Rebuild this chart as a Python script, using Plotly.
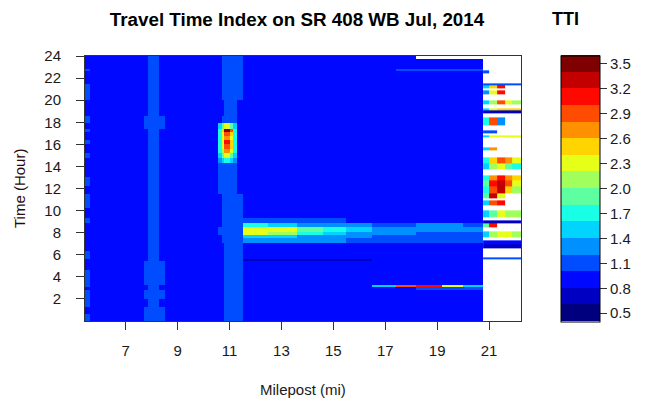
import plotly.graph_objects as go

# ---------------- TTI classes (colour key) ----------------
tti_zmin = 0.4
tti_zmax = 3.6
class_colors = ["#00007F", "#0000C3", "#0008FF", "#004CFF", "#0090FF", "#00D4FF",
                "#19FFE5", "#5DFFA1", "#A1FF5D", "#E5FF19", "#FFD400", "#FF9000",
                "#FF4C00", "#FF0800", "#C30000", "#7F0000"]
tti_ticks = [0.5, 0.8, 1.1, 1.4, 1.7, 2.0, 2.3, 2.6, 2.9, 3.2, 3.5]
tti_ticktext = ["0.5", "0.8", "1.1", "1.4", "1.7", "2.0", "2.3", "2.6", "2.9", "3.2", "3.5"]

mile_ticks = [7, 9, 11, 13, 15, 17, 19, 21]
hour_ticks = [2, 4, 6, 8, 10, 12, 14, 16, 18, 20, 22, 24]

# shorthand values
B = 0.9   # free flow blue
L = 1.1   # light streak blue
D = 0.7   # dark blue
N = None  # no data

# ---------------- main corridor field (milepost 5.43 - 20.77) ----------------
field_milepost_edges = [5.43, 5.62, 7.7, 7.85, 8.3, 8.5, 10.55, 10.7, 10.8, 11.0, 11.15,
                        11.3, 11.5, 12.5, 13.6, 14.6, 15.5, 16.5, 17.4, 18.2, 19.2, 20.0, 20.77]
field_hour_edges = [0, 0.6, 1.3, 2.0, 2.8, 3.1, 3.3, 4.0, 4.6, 5.45, 5.6, 6.3, 7.05, 7.5, 7.8,
                    8.1, 8.5, 8.9, 9.3, 10.2, 11.5, 12.2, 13.0, 14.3, 14.8, 15.2, 15.6, 16.0,
                    16.4, 16.8, 17.1, 17.4, 17.9, 18.6, 20.0, 21.5, 22.6, 22.8, 23.7, 24.0]
field_tti = [
    [L, B, L, L, L, B, B, B, L, L, L, L] + [B] * 10,                                   # 0-0.6
    [B, B, L, L, L, B, B, B, L, L, L, L] + [B] * 10,                                   # 0.6-1.3
    [L, B, B, L, B, B, B, B, L, L, L, L] + [B] * 10,                                   # 1.3-2.0
    [L, B, L, L, L, B, B, B, L, L, L, L] + [B] * 10,                                   # 2.0-2.8
    [B, B, B, L, B, B, B, B, L, L, L, L] + [B, B, B, B, B, B, B, L, L, L],             # 2.8-3.1
    [L, B, B, L, B, B, B, B, L, L, L, L] + [B, B, B, B, B, 1.5, 2.9, 3.1, 2.3, 1.5],   # 3.1-3.3
    [L, B, L, L, L, B, B, B, L, L, L, L] + [B] * 10,                                   # 3.3-4.0
    [L, B, L, L, L, B, B, B, L, L, L, L] + [B] * 10,                                   # 4.0-4.6
    [B, B, L, L, L, B, B, B, L, L, L, L] + [B] * 10,                                   # 4.6-5.45
    [B, B, B, L, B, B, B, B, L, L, L, L] + [D, D, D, D, D, B, B, B, B, B],             # 5.45-5.6
    [L, B, B, L, B, B, B, B, L, L, L, L] + [B] * 10,                                   # 5.6-6.3
    [B, B, B, L, B, B, B, B, L, L, L, L] + [B] * 10,                                   # 6.3-7.05
    [B, B, B, L, B, B, B, L, L, L, L, L] + [1.3, 1.3, 1.3, 1.3, L, L, L, L, L, L],     # 7.05-7.5
    [B, B, B, L, B, B, B, L, L, L, L, L] + [1.5, 1.5, 1.3, 1.3, 1.3, L, L, L, L, L],   # 7.5-7.8
    [B, B, B, L, B, B, L, L, L, L, L, L] + [2.3, 2.1, 1.7, 1.5, 1.3, 1.3, 1.3, L, L, L],      # 7.8-8.1
    [B, B, B, L, B, B, L, L, L, L, L, L] + [2.3, 2.3, 1.9, 1.7, 1.5, 1.3, 1.3, 1.3, 1.3, 1.3],  # 8.1-8.5
    [B, B, B, L, B, B, B, L, L, L, L, L] + [1.7, 1.5, 1.3, 1.3, 1.3, L, L, 1.3, 1.3, L],  # 8.5-8.9
    [L, B, B, L, B, B, B, L, L, L, L, L] + [L, L, L, L, B, B, B, B, B, B],             # 8.9-9.3
    [B, B, B, L, B, B, B, L, L, L, L, L] + [B] * 10,                                   # 9.3-10.2
    [L, B, B, L, B, B, B, L, L, L, L, L] + [B] * 10,                                   # 10.2-11.5
    [B, B, B, L, B, B, L, L, L, L, L, B] + [B] * 10,                                   # 11.5-12.2
    [L, B, B, L, B, B, L, L, L, L, L, B] + [B] * 10,                                   # 12.2-13.0
    [B, B, B, L, B, B, L, L, L, L, L, B] + [B] * 10,                                   # 13.0-14.3
    [B, B, B, L, B, B, 1.3, 1.5, 1.7, 1.5, 1.3, B] + [B] * 10,                         # 14.3-14.8
    [L, B, B, L, B, B, 1.5, 1.9, 2.3, 1.9, 1.5, B] + [B] * 10,                         # 14.8-15.2
    [B, B, B, L, B, B, 1.7, 2.1, 2.7, 2.3, 1.7, B] + [B] * 10,                         # 15.2-15.6
    [B, B, B, L, B, B, 1.7, 2.3, 2.9, 2.5, 1.7, B] + [B] * 10,                         # 15.6-16.0
    [L, B, B, L, B, B, 1.7, 2.3, 3.1, 2.5, 1.7, B] + [B] * 10,                         # 16.0-16.4
    [B, B, B, L, B, B, 1.7, 2.3, 2.7, 2.3, 1.7, B] + [B] * 10,                         # 16.4-16.8
    [B, B, B, L, B, B, 1.7, 2.3, 2.9, 2.5, 1.7, B] + [B] * 10,                         # 16.8-17.1
    [L, B, B, L, B, B, 1.7, 2.5, 3.5, 2.9, 1.7, B] + [B] * 10,                         # 17.1-17.4
    [B, B, L, L, L, B, 1.5, 1.9, 2.3, 1.9, 1.5, B] + [B] * 10,                         # 17.4-17.9
    [L, B, L, L, L, B, B, L, L, L, L, B] + [B] * 10,                                   # 17.9-18.6
    [B, B, B, L, B, B, B, B, L, L, L, B] + [B] * 10,                                   # 18.6-20.0
    [L, B, B, L, B, B, B, L, L, L, L, L] + [B] * 10,                                   # 20.0-21.5
    [B, B, B, L, B, B, B, L, L, L, L, L] + [B] * 10,                                   # 21.5-22.6
    [L, B, B, L, B, B, B, L, L, L, L, L] + [B, B, B, B, B, B, L, L, L, L],             # 22.6-22.8
    [B, B, B, L, B, B, B, L, L, L, L, L] + [B] * 10,                                   # 22.8-23.7
    [B, B, B, L, B, B, B, L, L, L, L, L] + [B, B, B, B, B, B, B, N, N, N],             # 23.7-24.0
]

# ---------------- sparse east end (milepost 20.77 - 22.23) ----------------
east_milepost_edges = [20.77, 21.0, 21.3, 21.6, 21.9, 22.23]
east_hour_edges = [5.6, 5.8, 6.6, 6.95, 7.3, 7.6, 8.1, 8.5, 8.8, 9.1, 9.4, 10.0, 10.5, 10.9,
                   11.1, 11.6, 12.2, 12.7, 13.2, 13.7, 14.3, 14.8, 15.5, 15.7, 16.6, 16.8,
                   17.0, 17.3, 17.7, 18.4, 18.8, 19.05, 19.3, 19.6, 20.0, 20.5, 20.9, 21.1,
                   21.3, 21.5, 22.4, 22.7]
east_tti = [
    [L, L, L, L, L],            # 5.6-5.8
    [N, N, N, N, N],            # 5.8-6.6
    [D, D, D, D, D],            # 6.6-6.95
    [B, B, B, B, B],            # 6.95-7.3
    [N, N, N, N, N],            # 7.3-7.6
    [1.5, 2.1, 2.3, 2.3, 2.1],  # 7.6-8.1
    [N, N, N, N, N],            # 8.1-8.5
    [1.9, 3.1, N, N, N],        # 8.5-8.8
    [D, D, D, D, D],            # 8.8-9.1
    [N, N, N, N, N],            # 9.1-9.4
    [1.5, 1.9, 2.3, 2.1, 2.1],  # 9.4-10.0
    [N, N, N, N, N],            # 10.0-10.5
    [1.5, 2.9, 3.1, N, N],      # 10.5-10.9
    [N, N, N, N, N],            # 10.9-11.1
    [1.9, 3.3, 2.3, N, N],      # 11.1-11.6
    [1.7, 2.9, 3.3, 2.5, 2.1],  # 11.6-12.2
    [1.9, 3.1, 3.3, 2.9, 2.3],  # 12.2-12.7
    [1.7, 2.7, 3.1, 2.7, 2.5],  # 12.7-13.2
    [N, N, N, N, N],            # 13.2-13.7
    [1.5, 2.1, 2.3, 1.9, 1.7],  # 13.7-14.3
    [1.7, 2.5, 2.9, 2.7, 2.3],  # 14.3-14.8
    [N, N, N, N, N],            # 14.8-15.5
    [1.5, 2.7, N, N, N],        # 15.5-15.7
    [N, N, N, N, N],            # 15.7-16.6
    [1.5, 2.3, 2.3, 2.3, 2.3],  # 16.6-16.8
    [N, N, N, N, N],            # 16.8-17.0
    [L, L, N, N, N],            # 17.0-17.3
    [N, N, N, N, N],            # 17.3-17.7
    [1.7, 2.9, 1.3, N, N],      # 17.7-18.4
    [N, N, N, N, N],            # 18.4-18.8
    [D, D, D, D, D],            # 18.8-19.05
    [1.5, 2.3, 2.5, 2.5, 2.5],  # 19.05-19.3
    [N, N, N, N, N],            # 19.3-19.6
    [1.5, 2.1, 2.9, 2.3, 2.1],  # 19.6-20.0
    [N, N, N, N, N],            # 20.0-20.5
    [1.3, 2.3, 3.1, N, N],      # 20.5-20.9
    [N, N, N, N, N],            # 20.9-21.1
    [1.5, 2.5, 3.1, N, N],      # 21.1-21.3
    [L, L, L, L, L],            # 21.3-21.5
    [N, N, N, N, N],            # 21.5-22.4
    [L, N, N, N, N],            # 22.4-22.7
]

# stepped colour scale built from the class colours
n_cls = len(class_colors)
colorscale = []
for i, c in enumerate(class_colors):
    colorscale.append([i / n_cls, c])
    colorscale.append([(i + 1) / n_cls, c])

fig = go.Figure()
fig.add_trace(go.Heatmap(x=field_milepost_edges, y=field_hour_edges, z=field_tti,
                         coloraxis="coloraxis", zsmooth=False, hoverongaps=False))
fig.add_trace(go.Heatmap(x=east_milepost_edges, y=east_hour_edges, z=east_tti,
                         coloraxis="coloraxis", zsmooth=False, hoverongaps=False))

FONT = "Liberation Sans, Arial, sans-serif"
TXT = "#1a1a1a"

# plot area in pixels: x 85..521, y 56..321
PL, PR, PT, PB = 85, 521, 56, 321
W, H = 645, 400
pw, ph = PR - PL, PB - PT


def px_x(p):
    return (p - PL) / pw


def px_y(p):
    return (PB - p) / ph


fig.update_layout(
    width=W, height=H,
    margin=dict(l=PL, r=W - PR, t=PT, b=H - PB, pad=0, autoexpand=False),
    paper_bgcolor="white", plot_bgcolor="white",
    font=dict(family=FONT, size=15, color=TXT),
    title=dict(text="<b>Travel Time Index on SR 408 WB Jul, 2014</b>",
               x=297 / W, xanchor="center", xref="container",
               y=1 - 19 / H, yanchor="middle", yref="container",
               font=dict(size=18.8, color="#000000", family=FONT)),
    coloraxis=dict(
        colorscale=colorscale, cmin=tti_zmin, cmax=tti_zmax,
        colorbar=dict(
            x=px_x(561), xanchor="left", y=0.5, yanchor="middle",
            len=266, lenmode="pixels", thickness=39, thicknessmode="pixels",
            xpad=0, ypad=0, outlinewidth=1, outlinecolor="#000000",
            tickvals=tti_ticks, ticktext=tti_ticktext, ticks="outside",
            ticklen=7, tickwidth=1, tickcolor="#333333",
            tickfont=dict(size=15, color=TXT, family=FONT),
        ),
    ),
    xaxis=dict(range=[5.43, 22.23], tickvals=mile_ticks, ticks="outside", ticklen=8,
               tickwidth=1, tickcolor="#333333", showline=True, linecolor="#333333",
               linewidth=1, mirror=True, showgrid=False, zeroline=False,
               ticklabelstandoff=8, automargin=False),
    yaxis=dict(range=[0, 24], tickvals=hour_ticks, ticks="outside", ticklen=8,
               tickwidth=1, tickcolor="#333333", showline=True, linecolor="#333333",
               linewidth=1, mirror=True, showgrid=False, zeroline=False,
               ticklabelstandoff=12, automargin=False),
    annotations=[
        dict(text="<b>TTI</b>", xref="paper", yref="paper",
             x=px_x(565), y=px_y(19), xanchor="center", yanchor="middle",
             showarrow=False, font=dict(size=18, color="#000000", family=FONT)),
        dict(text="Milepost (mi)", xref="paper", yref="paper",
             x=px_x(303), y=px_y(389), xanchor="center", yanchor="middle",
             showarrow=False, font=dict(size=15, color=TXT, family=FONT)),
        dict(text="Time (Hour)", xref="paper", yref="paper", textangle=-90,
             x=px_x(19.5), y=0.5, xanchor="center", yanchor="middle",
             showarrow=False, font=dict(size=15, color="#2a0a0a", family=FONT)),
    ],
)

fig.write_html("out.html", config={"displayModeBar": False},
               post_script="document.body.style.margin='0px';")
